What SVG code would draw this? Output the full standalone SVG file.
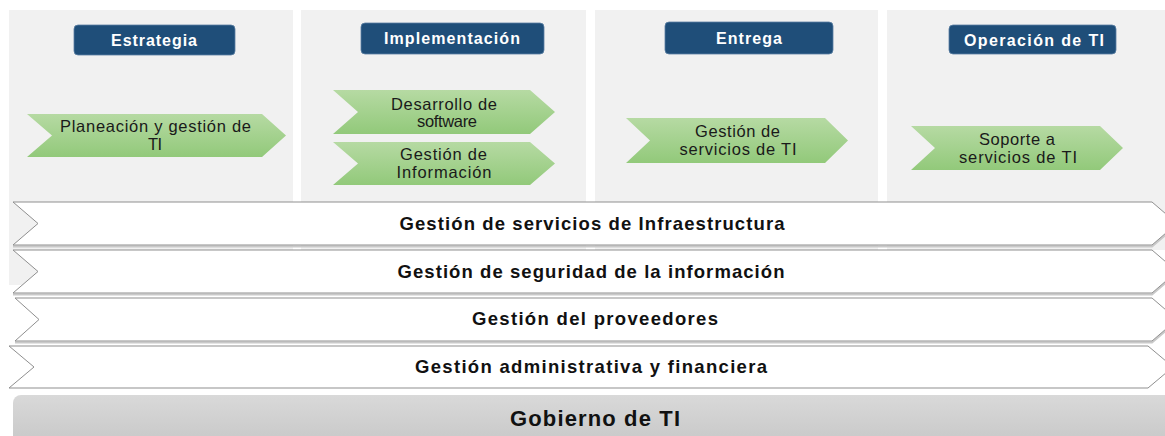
<svg xmlns="http://www.w3.org/2000/svg" width="1165" height="436" viewBox="0 0 1165 436">
<defs>
<linearGradient id="gGreen" x1="0" y1="0" x2="0" y2="1">
<stop offset="0" stop-color="#b6daa3"/>
<stop offset="1" stop-color="#92c97a"/>
</linearGradient>
<linearGradient id="gGray" x1="0" y1="0" x2="0" y2="1">
<stop offset="0" stop-color="#d9d9d9"/>
<stop offset="1" stop-color="#c4c4c4"/>
</linearGradient>
<style>
.col{fill:#f1f1f1}
.hdr{fill:#1f4e79;stroke:#5a7fa3;stroke-width:0.8}
.hdrt{font-family:"Liberation Sans",Arial,sans-serif;font-weight:bold;font-size:16px;fill:#ffffff;text-anchor:middle}
.chev{fill:url(#gGreen)}
.ct{font-family:"Liberation Sans",Arial,sans-serif;font-size:16.5px;fill:#1a1a1a;text-anchor:middle}
.band{fill:#ffffff;stroke:#8f8f8f;stroke-width:1}
.shadow{fill:none;stroke:#c9c9c9;stroke-width:2}
.bt{font-family:"Liberation Sans",Arial,sans-serif;font-weight:bold;font-size:18.5px;fill:#111111;text-anchor:middle}
.gov{fill:url(#gGray)}
.govt{font-family:"Liberation Sans",Arial,sans-serif;font-weight:bold;font-size:22px;fill:#111111;text-anchor:middle}
</style>
</defs>
<rect width="1165" height="436" fill="#ffffff"/>

<g id="col-estrategia">
<rect class="col" x="9" y="10" width="284" height="275"/>
<rect class="hdr" x="74" y="25" width="161" height="30" rx="4"/>
<text class="hdrt" x="154" y="46" textLength="86" lengthAdjust="spacing">Estrategia</text>
</g>
<g id="col-implementacion">
<rect class="col" x="301" y="10" width="285" height="240"/>
<rect class="hdr" x="361" y="23" width="183" height="31" rx="4"/>
<text class="hdrt" x="452" y="44" textLength="136" lengthAdjust="spacing">Implementación</text>
</g>
<g id="col-entrega">
<rect class="col" x="595" y="10" width="283" height="240"/>
<rect class="hdr" x="665" y="22" width="168" height="32" rx="4"/>
<text class="hdrt" x="749" y="44" textLength="66" lengthAdjust="spacing">Entrega</text>
</g>
<g id="col-operacion">
<rect class="col" x="887" y="10" width="278" height="240"/>
<rect class="hdr" x="949" y="25" width="167" height="29" rx="4"/>
<text class="hdrt" x="1034" y="46" textLength="140" lengthAdjust="spacing">Operación de TI</text>
</g>

<g id="planeacion">
<polygon class="chev" points="27,114 262,114 286,135.5 262,157 27,157 52,135.5"/>
<text class="ct" x="155.5" y="132" textLength="191" lengthAdjust="spacing">Planeación y gestión de</text>
<text class="ct" x="155" y="150" textLength="14" lengthAdjust="spacing">TI</text>
</g>
<g id="desarrollo">
<polygon class="chev" points="333,90 530,90 555,112 530,134 333,134 358,112"/>
<text class="ct" x="444" y="110" textLength="106" lengthAdjust="spacing">Desarrollo de</text>
<text class="ct" x="447" y="127" textLength="60" lengthAdjust="spacing">software</text>
</g>
<g id="gestion-informacion">
<polygon class="chev" points="333,142 530,142 555,163.5 530,185 333,185 358,163.5"/>
<text class="ct" x="443.5" y="160" textLength="87" lengthAdjust="spacing">Gestión de</text>
<text class="ct" x="444" y="178" textLength="95" lengthAdjust="spacing">Información</text>
</g>
<g id="gestion-servicios-ti">
<polygon class="chev" points="626,118 825,118 848,140.5 825,163 626,163 650,140.5"/>
<text class="ct" x="737.5" y="137" textLength="85" lengthAdjust="spacing">Gestión de</text>
<text class="ct" x="738" y="155" textLength="117" lengthAdjust="spacing">servicios de TI</text>
</g>
<g id="soporte">
<polygon class="chev" points="911,126 1100,126 1123,148 1100,170 911,170 935,148"/>
<text class="ct" x="1017" y="145" textLength="76" lengthAdjust="spacing">Soporte a</text>
<text class="ct" x="1018" y="163" textLength="118" lengthAdjust="spacing">servicios de TI</text>
</g>

<g id="band-infraestructura">
<polyline class="shadow" points="13,246.5 1152,246.5 1177,225"/>
<polygon class="band" points="13,202 1152,202 1177,223.5 1152,245 13,245 38,223.5"/>
<text class="bt" x="592" y="230" textLength="385" lengthAdjust="spacing">Gestión de servicios de Infraestructura</text>
</g>
<g id="band-seguridad">
<polyline class="shadow" points="13,294.5 1152,294.5 1177,273"/>
<polygon class="band" points="13,250 1152,250 1177,271.5 1152,293 13,293 38,271.5"/>
<text class="bt" x="591" y="278" textLength="387" lengthAdjust="spacing">Gestión de seguridad de la información</text>
</g>
<g id="band-proveedores">
<polyline class="shadow" points="15,342.5 1152,342.5 1177,321"/>
<polygon class="band" points="15,298 1152,298 1177,319.5 1152,341 15,341 39,319.5"/>
<text class="bt" x="595" y="325" textLength="246" lengthAdjust="spacing">Gestión del proveedores</text>
</g>
<g id="band-administrativa">
<polygon class="band" points="9,346 1148,346 1173,367 1148,388 9,388 34,367"/>
<text class="bt" x="591" y="373" textLength="352" lengthAdjust="spacing">Gestión administrativa y financiera</text>
</g>

<g id="gobierno">
<rect class="gov" x="13" y="395" width="1170" height="60" rx="8"/>
<text class="govt" x="595" y="426" textLength="170" lengthAdjust="spacing">Gobierno de TI</text>
</g>
</svg>
